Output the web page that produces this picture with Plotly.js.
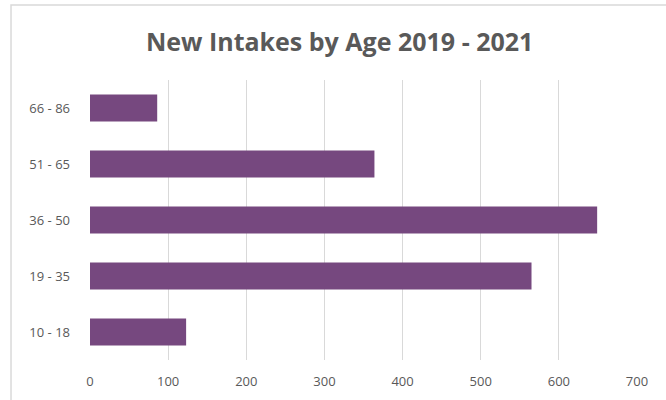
<!DOCTYPE html>
<html>
<head>
<meta charset="utf-8">
<script src="https://cdn.plot.ly/plotly-3.0.1.min.js"></script>
<style>
html, body { margin: 0; padding: 0; background: #ffffff; }
#chart { width: 666px; height: 400px; }
</style>
</head>
<body>
<div id="chart"></div>
<script>
const categories = ["10 - 18", "19 - 35", "36 - 50", "51 - 65", "66 - 86"];
const intakes = [123, 565, 649, 364, 86];
const xTicks = [0, 100, 200, 300, 400, 500, 600, 700];

const trace = {
  type: "bar",
  orientation: "h",
  y: categories,
  x: intakes,
  marker: { color: "#76487f", line: { width: 0 } },
  hoverinfo: "x+y"
};

const layout = {
  width: 666,
  height: 400,
  margin: { l: 90, r: 29, t: 80, b: 40 },
  paper_bgcolor: "#ffffff",
  plot_bgcolor: "#ffffff",
  showlegend: false,
  bargap: 0.52,
  font: { family: "Open Sans, Liberation Sans, sans-serif", color: "#595959", size: 13 },
  title: {
    text: "<b>New Intakes by Age 2019 - 2021</b>",
    font: { family: "Open Sans, sans-serif", size: 25, color: "#595959" },
    x: 0.51, xanchor: "center",
    y: 0.895, yanchor: "middle", yref: "container"
  },
  xaxis: {
    range: [0, 700],
    tickvals: xTicks,
    ticktext: xTicks.map(String),
    showgrid: true,
    gridcolor: "#d9d9d9",
    gridwidth: 1,
    zeroline: false,
    showline: false,
    ticks: "",
    ticklabelstandoff: 12,
    tickfont: { size: 13, color: "#595959" },
    fixedrange: true
  },
  yaxis: {
    type: "category",
    categoryorder: "array",
    categoryarray: categories,
    showgrid: false,
    zeroline: false,
    showline: false,
    ticks: "",
    ticklabelstandoff: 19,
    tickfont: { size: 13, color: "#595959" },
    fixedrange: true
  },
  shapes: [{
    type: "rect", xref: "paper", yref: "paper",
    x0: -0.1444, x1: 1.07, y0: -0.2, y1: 1.268,
    line: { color: "#d9d9d9", width: 1.5 },
    fillcolor: "rgba(0,0,0,0)",
    layer: "below"
  }]
};

Plotly.newPlot("chart", [trace], layout, { displayModeBar: false, staticPlot: true });
</script>
</body>
</html>
